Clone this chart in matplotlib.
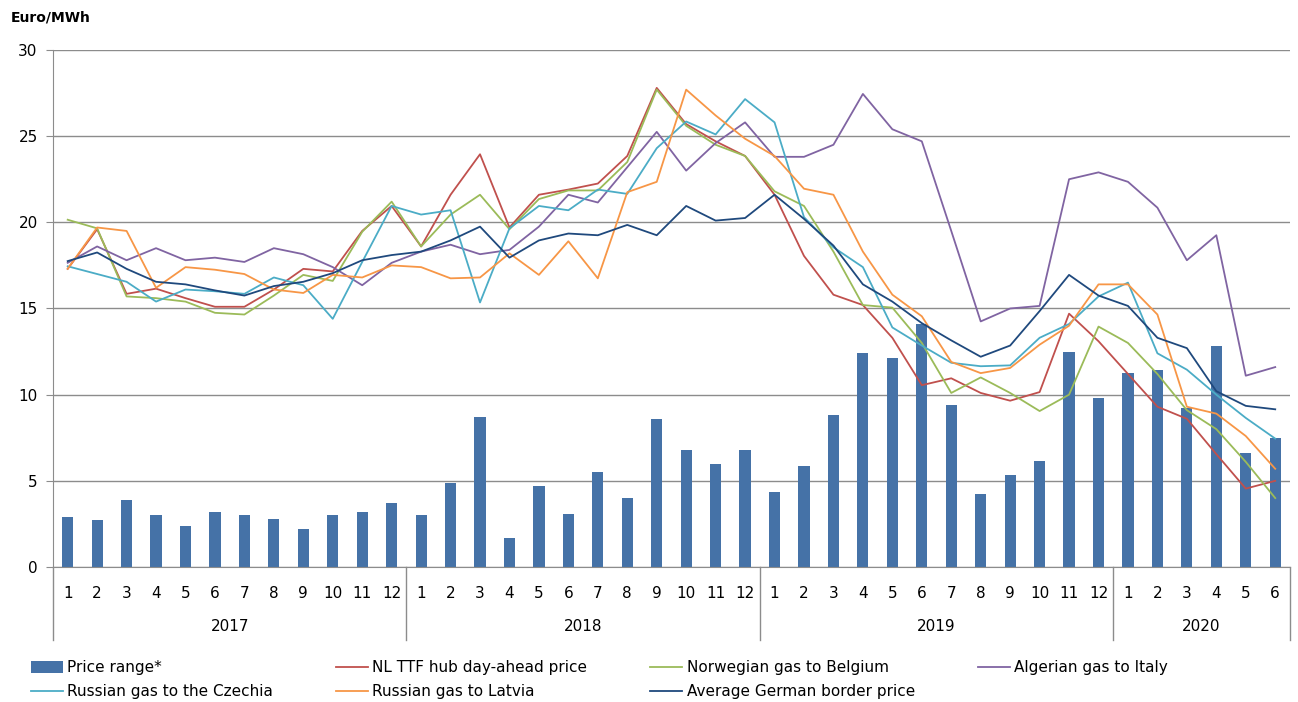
import numpy as np
import matplotlib
matplotlib.use("Agg")
import matplotlib.pyplot as plt
from matplotlib.lines import Line2D
from matplotlib.patches import Patch
import matplotlib.transforms as mtransforms

plt.rcParams['font.family'] = ['DejaVu Sans']

years = ['2017', '2018', '2019', '2020']
months_per_year = [12, 12, 12, 6]
month_labels = [str(m) for n in months_per_year for m in range(1, n + 1)]

price_range = [2.9, 2.7, 3.9, 3.0, 2.4, 3.2, 3.0, 2.8, 2.2, 3.0, 3.2, 3.7,
               3.0, 4.9, 8.7, 1.7, 4.7, 3.1, 5.5, 4.0, 8.6, 6.8, 6.0, 6.8,
               4.35, 5.85, 8.8, 12.4, 12.1, 14.1, 9.4, 4.25, 5.35, 6.15, 12.5, 9.8,
               11.25, 11.45, 9.2, 12.8, 6.6, 7.5]

nl_ttf = [17.3, 19.6, 15.85, 16.15, 15.6, 15.1, 15.1, 16.1, 17.3, 17.15, 19.5, 20.95,
          18.6, 21.6, 23.95, 19.7, 21.6, 21.9, 22.25, 23.85, 27.8, 25.7, 24.7, 23.85,
          21.6, 18.05, 15.8, 15.2, 13.3, 10.55, 10.95, 10.1, 9.65, 10.15, 14.7, 13.1,
          11.2, 9.3, 8.6, 6.55, 4.55, 5.0]

norway_belgium = [20.15, 19.65, 15.7, 15.6, 15.4, 14.75, 14.65, 15.75, 16.95, 16.6, 19.45, 21.2,
                  18.6, 20.45, 21.6, 19.6, 21.35, 21.85, 21.85, 23.5, 27.7, 25.6, 24.5, 23.85,
                  21.8, 20.95, 18.3, 15.2, 15.05, 13.0, 10.1, 11.0, 10.1, 9.05, 10.0, 13.95,
                  13.0, 11.2, 9.1, 8.0, 6.1, 4.0]

algeria_italy = [17.65, 18.6, 17.8, 18.5, 17.8, 17.95, 17.7, 18.5, 18.15, 17.4, 16.35, 17.65,
                 18.3, 18.7, 18.15, 18.4, 19.75, 21.6, 21.15, 23.2, 25.25, 23.0, 24.6, 25.8,
                 23.8, 23.8, 24.5, 27.45, 25.4, 24.7, 19.5, 14.25, 15.0, 15.15, 22.5, 22.9,
                 22.35, 20.85, 17.8, 19.25, 11.1, 11.6]

russia_czechia = [17.45, 17.0, 16.55, 15.4, 16.1, 16.0, 15.85, 16.8, 16.35, 14.4, 17.7, 20.95,
                  20.45, 20.7, 15.35, 19.65, 20.95, 20.7, 21.9, 21.65, 24.3, 25.85, 25.1, 27.15,
                  25.8, 20.3, 18.55, 17.4, 13.9, 12.85, 11.85, 11.65, 11.7, 13.3, 14.1, 15.7,
                  16.5, 12.4, 11.45, 10.0, 8.65, 7.45]

russia_latvia = [17.3, 19.7, 19.5, 16.2, 17.4, 17.25, 17.0, 16.1, 15.9, 16.95, 16.8, 17.5,
                 17.4, 16.75, 16.8, 18.2, 16.95, 18.9, 16.75, 21.75, 22.35, 27.7, 26.2, 24.85,
                 23.85, 21.95, 21.6, 18.3, 15.8, 14.55, 11.9, 11.25, 11.55, 12.9, 14.0, 16.4,
                 16.4, 14.65, 9.3, 8.9, 7.6, 5.7]

german_border = [17.75, 18.25, 17.3, 16.55, 16.4, 16.05, 15.75, 16.3, 16.55, 17.05, 17.8, 18.1,
                 18.3, 18.95, 19.75, 17.95, 18.95, 19.35, 19.25, 19.85, 19.25, 20.95, 20.1, 20.25,
                 21.6, 20.2, 18.65, 16.4, 15.4, 14.15, 13.15, 12.2, 12.85, 14.85, 16.95, 15.75,
                 15.15, 13.3, 12.7, 10.2, 9.35, 9.15]

series = [
    ('NL TTF hub day-ahead price', nl_ttf, '#C0504D'),
    ('Norwegian gas to Belgium', norway_belgium, '#9BBB59'),
    ('Algerian gas to Italy', algeria_italy, '#8064A2'),
    ('Russian gas to the Czechia', russia_czechia, '#4BACC6'),
    ('Russian gas to Latvia', russia_latvia, '#F79646'),
    ('Average German border price', german_border, '#1F497D'),
]
bar_color = '#4572A7'
grid_color = '#8C8C8C'

fig = plt.figure(figsize=(12.98, 7.02), dpi=100)
ax = fig.add_axes([0.0408, 0.1923, 0.953, 0.7365])

x = np.arange(len(month_labels))
ax.bar(x, price_range, width=0.38, color=bar_color, zorder=2)
for name, vals, col in series:
    ax.plot(x, vals, color=col, lw=1.3, zorder=3)

ax.set_xlim(-0.5, len(month_labels) - 0.5)
ax.set_ylim(0, 30)
ax.set_yticks(np.arange(0, 31, 5))
ax.yaxis.grid(True, color=grid_color, lw=1.0, zorder=0)
ax.tick_params(axis='y', labelsize=11, length=5, color=grid_color, pad=6)
for s in ['top', 'right']:
    ax.spines[s].set_visible(False)
for s in ['left', 'bottom']:
    ax.spines[s].set_color(grid_color)

# month numbers as tick labels, years centred underneath
ax.set_xticks(x)
ax.set_xticklabels(month_labels, fontsize=11)
ax.tick_params(axis='x', length=0, pad=14)

trans = mtransforms.blended_transform_factory(ax.transData, ax.transAxes)
sep_bottom = -0.141
start = 0
bounds = [-0.5]
for yr, n in zip(years, months_per_year):
    ax.text(start + (n - 1) / 2, -0.115, yr, transform=trans, ha='center',
            va='center', fontsize=11)
    start += n
    bounds.append(start - 0.5)
for b in bounds:
    ax.plot([b, b], [0, sep_bottom], transform=trans, color=grid_color,
            lw=1.0, clip_on=False)

fig.text(0.008, 0.975, 'Euro/MWh', fontsize=10, fontweight='bold', va='center')

handles = [Patch(facecolor=bar_color, label='Price range*')]
handles += [Line2D([], [], color=c, lw=1.3, label=n) for n, v, c in series]
# legend fills column by column, so reorder to read left to right
legend_handles = [handles[0], handles[4], handles[1], handles[5],
                  handles[2], handles[6], handles[3]]
fig.legend(handles=legend_handles, loc='lower left', bbox_to_anchor=(0.013, -0.016),
           ncol=4, frameon=False, fontsize=11, handlelength=2.1, handleheight=0.75,
           handletextpad=0.3, columnspacing=4.1, labelspacing=0.6)

fig.savefig('out.png', dpi=100)
